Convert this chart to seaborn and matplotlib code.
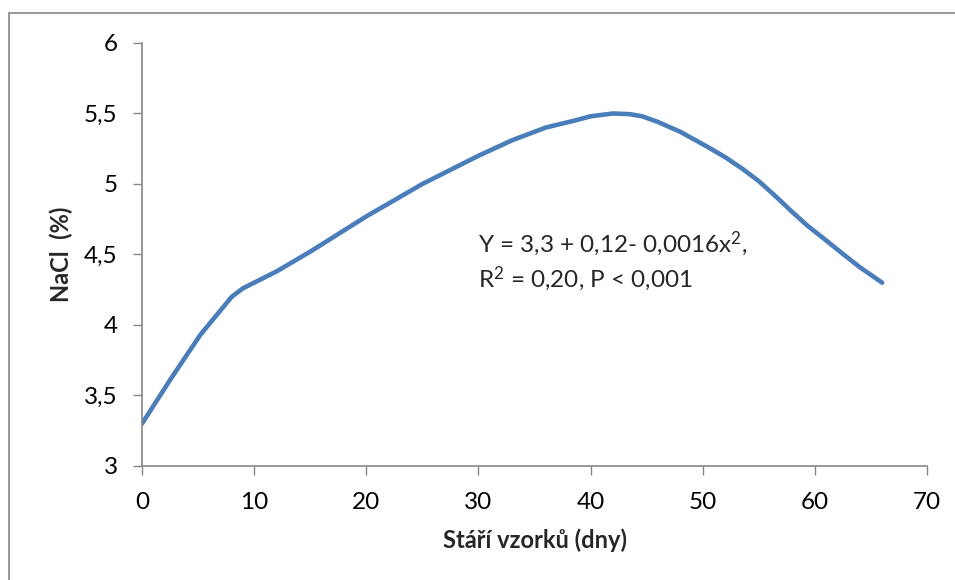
import matplotlib
matplotlib.use("Agg")
import matplotlib.pyplot as plt
import seaborn as sns
import pandas as pd
from matplotlib.lines import Line2D

sns.set_style("white")
plt.rcParams['font.family'] = ['Lato', 'DejaVu Sans']
plt.rcParams['mathtext.fontset'] = 'custom'
plt.rcParams['mathtext.rm'] = 'Lato'
plt.rcParams['mathtext.it'] = 'Lato'

# values
days = [0, 2.5, 5.2, 8.0, 9, 10, 12, 15, 20, 25, 30, 33, 36, 38.6, 40, 42, 43.5,
        44.6, 46, 48, 50.5, 52, 53.5, 55, 56.4, 58, 59.4, 61, 62.4, 64, 66]
nacl = [3.30, 3.61, 3.93, 4.20, 4.26, 4.30, 4.38, 4.52, 4.77, 5.00, 5.20, 5.31, 5.40,
        5.45, 5.48, 5.50, 5.495, 5.48, 5.44, 5.37, 5.26, 5.19, 5.11, 5.02, 4.92, 4.80,
        4.70, 4.60, 4.51, 4.41, 4.30]
x_ticks = [0, 10, 20, 30, 40, 50, 60, 70]
y_ticks = [3, 3.5, 4, 4.5, 5, 5.5, 6]
y_labels = ['3', '3,5', '4', '4,5', '5', '5,5', '6']

df = pd.DataFrame({'days': days, 'nacl': nacl})

fig = plt.figure(figsize=(9.55, 5.8), dpi=100)
ax = fig.add_axes([0.1487, 0.1966, 0.822, 0.7293])

sns.lineplot(x='days', y='nacl', data=df, ax=ax, color='#4a7ebb', linewidth=3.3,
             solid_capstyle='round', solid_joinstyle='round')

ax.set_xlim(0, 70)
ax.set_ylim(3, 6)
ax.set_xticks(x_ticks)
ax.set_xticklabels([str(t) for t in x_ticks])
ax.set_yticks(y_ticks)
ax.set_yticklabels(y_labels)

gray = '#868686'
for s in ['top', 'right']:
    ax.spines[s].set_visible(False)
for s in ['left', 'bottom']:
    ax.spines[s].set_color(gray)
    ax.spines[s].set_linewidth(1.2)
ax.tick_params(axis='both', direction='out', length=6.5, width=1, color=gray,
               labelsize=17.5, labelcolor='black', left=True, bottom=True)
ax.tick_params(axis='y', pad=11)
ax.tick_params(axis='x', pad=12)

ax.set_xlabel('Stáří vzorků (dny)', fontsize=17, fontweight='bold', labelpad=11)
ax.set_ylabel('NaCl  (%)', fontsize=17, fontweight='bold', labelpad=8)

ax.text(30, 4.58, 'Y = 3,3 + 0,12- 0,0016x$^{2}$,', fontsize=17.5, va='center', ha='left')
ax.text(30, 4.33, 'R$^{2}$ = 0,20, P < 0,001', fontsize=17.5, va='center', ha='left')

# chart border (left and top visible)
fig.add_artist(Line2D([9 / 955, 9 / 955], [0, 1 - 13 / 580], transform=fig.transFigure,
                      color=gray, linewidth=1.2))
fig.add_artist(Line2D([9 / 955, 1], [1 - 13 / 580, 1 - 13 / 580], transform=fig.transFigure,
                      color=gray, linewidth=1.2))

fig.savefig('out.png', dpi=100)
